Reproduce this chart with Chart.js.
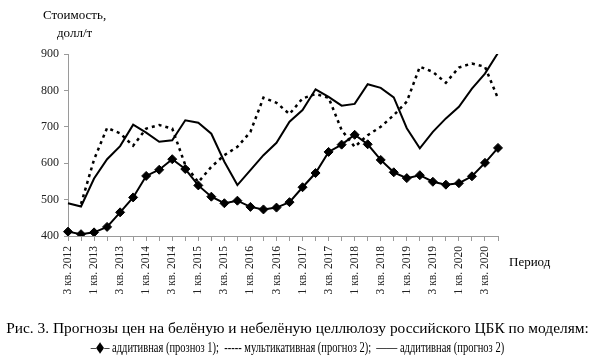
<!DOCTYPE html>
<html>
<head>
<meta charset="utf-8">
<script src="https://cdn.jsdelivr.net/npm/chart.js@4/dist/chart.umd.min.js"></script>
<style>
  html, body { margin: 0; padding: 0; background: #fff; }
  #wrap { position: relative; width: 595px; height: 363px; overflow: hidden; font-family: "Liberation Serif", "DejaVu Serif", serif; color: #000; }
  #c { position: absolute; left: 0; top: 0; }
  .t { position: absolute; white-space: nowrap; line-height: 1; }
</style>
</head>
<body>
<div id="wrap">
  <canvas id="c" width="595" height="363"></canvas>
  <div class="t" id="yt1" style="left:43px; top:8px; font-size:13px;">Стоимость,</div>
  <div class="t" id="yt2" style="left:57px; top:26px; font-size:13px;">долл/т</div>
  <div class="t" id="xt" style="left:509px; top:255px; font-size:13px;">Период</div>
  <div class="t" id="cap1" style="left:-20px; width:635px; text-align:center; top:320px; font-size:15.4px;">Рис. 3. Прогнозы цен на белёную и небелёную целлюлозу российского ЦБК по моделям:</div>
  <div class="t" id="cap2" style="left:-100px; width:795px; text-align:center; top:340px; font-size:15px; transform:scaleX(0.7); transform-origin:50% 50%;">‒◆‒ аддитивная (прозноз 1);&nbsp; ----- мультикативная (прогноз 2);&nbsp; —— аддитивная (прогноз 2)</div>
</div>
<script>
const categories = [
  "3 кв. 2012","4 кв. 2012",
  "1 кв. 2013","2 кв. 2013","3 кв. 2013","4 кв. 2013",
  "1 кв. 2014","2 кв. 2014","3 кв. 2014","4 кв. 2014",
  "1 кв. 2015","2 кв. 2015","3 кв. 2015","4 кв. 2015",
  "1 кв. 2016","2 кв. 2016","3 кв. 2016","4 кв. 2016",
  "1 кв. 2017","2 кв. 2017","3 кв. 2017","4 кв. 2017",
  "1 кв. 2018","2 кв. 2018","3 кв. 2018","4 кв. 2018",
  "1 кв. 2019","2 кв. 2019","3 кв. 2019","4 кв. 2019",
  "1 кв. 2020","2 кв. 2020","3 кв. 2020","4 кв. 2020"
];
const additive1 = [412,405,410,425,465,506,565,582,611,584,539,508,490,497,480,473,478,493,534,573,631,651,678,652,609,575,559,567,549,541,545,564,601,642];
const multiplicative2 = [null,488,610,697,682,648,695,705,695,595,548,590,622,645,686,780,766,735,778,790,780,691,645,677,700,732,769,865,851,821,863,874,865,778];
const additive2 = [490,481,558,611,647,706,684,659,663,718,711,681,604,540,581,622,656,714,746,803,782,758,763,817,807,781,696,641,686,723,755,805,846,903];
const yTicks = [400,500,600,700,800,900];

const LEFT = 68, RIGHT = 498, TOP = 54, BOTTOM = 236;

new Chart(document.getElementById('c'), {
  type: 'line',
  data: {
    labels: categories,
    datasets: [
      { label: 'аддитивная (прозноз 1)', data: additive1, borderColor: '#000', backgroundColor: '#000', borderWidth: 2,
        pointStyle: 'rectRot', pointRadius: 4.5, pointBorderWidth: 1, pointBackgroundColor: '#000', pointBorderColor: '#000', tension: 0, order: 0 },
      { label: 'мультикативная (прогноз 2)', data: multiplicative2, borderColor: '#000', borderWidth: 2.5, borderDash: [3,4],
        pointRadius: 0, tension: 0, spanGaps: false, order: 2 },
      { label: 'аддитивная (прогноз 2)', data: additive2, borderColor: '#000', borderWidth: 2, pointRadius: 0, tension: 0, order: 1 }
    ]
  },
  options: {
    responsive: false,
    animation: false,
    events: [],
    layout: { padding: { left: 0, right: 595 - RIGHT, top: TOP, bottom: 0 } },
    plugins: { legend: { display: false }, tooltip: { enabled: false } },
    scales: {
      x: {
        type: 'category',
        offset: false,
        grid: { display: true, drawOnChartArea: false, drawTicks: true, tickLength: 5, color: '#9a9a9a', lineWidth: 1 },
        border: { display: true, color: '#9a9a9a', width: 1 },
        ticks: {
          autoSkip: false, minRotation: 90, maxRotation: 90, padding: 5, color: '#222',
          font: { family: "Liberation Serif", size: 11.5 },
          callback: function(v, i) { return i % 2 === 0 ? this.getLabelForValue(v) : ''; }
        },
        afterFit: function(s) { s.height = 363 - BOTTOM; }
      },
      y: {
        min: 400, max: 900,
        afterBuildTicks: function(s) { s.ticks = yTicks.map(v => ({ value: v })); },
        grid: { display: true, drawOnChartArea: false, drawTicks: true, tickLength: 4, color: '#9a9a9a' },
        border: { display: true, color: '#9a9a9a', width: 1 },
        ticks: { padding: 5, color: '#222', font: { family: "Liberation Serif", size: 12 } },
        afterFit: function(s) { s.width = LEFT; }
      }
    }
  }
});
</script>
</body>
</html>
